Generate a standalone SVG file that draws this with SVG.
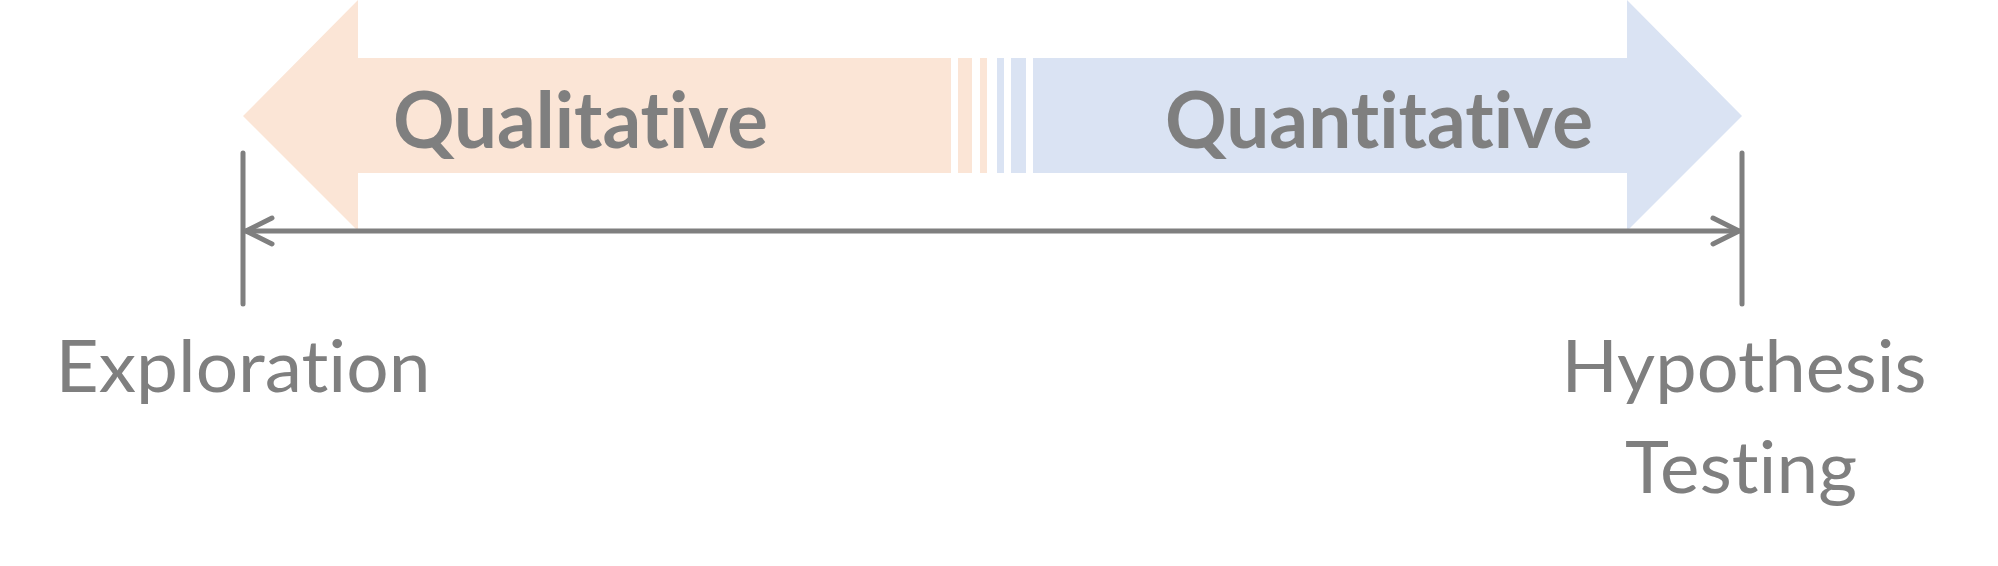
<svg xmlns="http://www.w3.org/2000/svg" width="1998" height="566" viewBox="0 0 1998 566">
  <style>
    .lbl { font-family: Lato, "Open Sans", "Liberation Sans", sans-serif; fill: #7F7F7F; font-variant-ligatures: none; font-feature-settings: "liga" 0, "clig" 0; }
    .big { font-weight: bold; font-size: 78px; }
    .end { font-size: 71px; text-anchor: middle; }
    .ln { stroke: #7F7F7F; fill: none; stroke-linecap: round; stroke-linejoin: round; stroke-width: 5; }
  </style>
  <rect width="1998" height="566" fill="#FFFFFF"/>
  <g id="qualitative">
    <polygon points="243,116 358,0 358,58 951,58 951,173 358,173 358,231" fill="#FBE5D6"/>
    <rect x="958" y="58" width="14" height="115" fill="#FBE5D6"/>
    <rect x="980" y="58" width="7" height="115" fill="#FBE5D6"/>
    <text class="lbl big" x="393" y="148" textLength="375" lengthAdjust="spacingAndGlyphs">Qualitative</text>
  </g>
  <g id="quantitative">
    <polygon points="1742,116 1627,0 1627,58 1033,58 1033,173 1627,173 1627,231" fill="#DAE3F3"/>
    <rect x="997" y="58" width="7" height="115" fill="#DAE3F3"/>
    <rect x="1011" y="58" width="15" height="115" fill="#DAE3F3"/>
    <text class="lbl big" x="1165" y="148" textLength="428" lengthAdjust="spacingAndGlyphs">Quantitative</text>
  </g>
  <g id="exploration">
    <text class="lbl end" x="243" y="392" textLength="375" lengthAdjust="spacingAndGlyphs">Exploration</text>
  </g>
  <g id="hypothesis-testing">
    <text class="lbl end" x="1744" y="392" textLength="365" lengthAdjust="spacingAndGlyphs">Hypothesis</text>
    <text class="lbl end" x="1741" y="493" textLength="232" lengthAdjust="spacingAndGlyphs">Testing</text>
  </g>
  <g id="connectors">
    <line class="ln" x1="243" y1="153" x2="243" y2="304" stroke-linecap="butt"/>
    <line class="ln" x1="1742" y1="153" x2="1742" y2="304" stroke-linecap="butt"/>
    <line class="ln" x1="246" y1="231" x2="1739" y2="231" stroke-linecap="butt"/>
    <polyline class="ln" points="272,218 246,231 272,244"/>
    <polyline class="ln" points="1713,218 1739,231 1713,244"/>
  </g>
</svg>
